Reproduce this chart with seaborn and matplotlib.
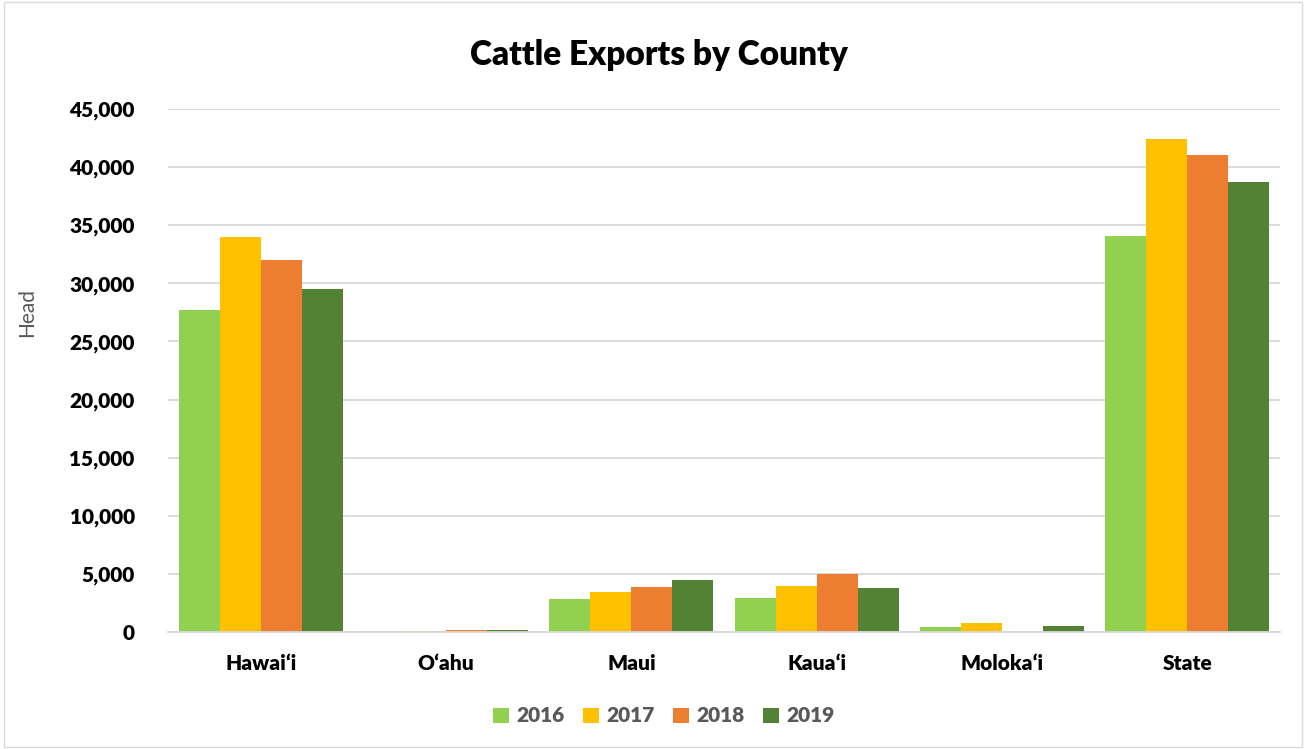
import pandas as pd
import matplotlib.pyplot as plt
import seaborn as sns
from matplotlib.ticker import FuncFormatter
from matplotlib.patches import Rectangle

# Chart data
counties = ['Hawai\u02bbi', 'O\u02bbahu', 'Maui', 'Kaua\u02bbi', 'Moloka\u02bbi', 'State']
years = ['2016', '2017', '2018', '2019']
head_2016 = [27700, 50, 2850, 2900, 400, 34100]
head_2017 = [34000, 50, 3400, 4000, 800, 42450]
head_2018 = [32000, 200, 3900, 5000, 0, 41000]
head_2019 = [29550, 180, 4450, 3750, 550, 38700]
colors = ['#92D050', '#FFC000', '#ED7D31', '#548235']

rows = []
for year, vals in zip(years, [head_2016, head_2017, head_2018, head_2019]):
    for county, v in zip(counties, vals):
        rows.append({'county': county, 'year': year, 'head': v})
df = pd.DataFrame(rows)

sns.set_style('white')
plt.rcParams['font.family'] = ['Lato', 'DejaVu Sans']
plt.rcParams['text.color'] = 'black'

fig = plt.figure(figsize=(13.06, 7.49), dpi=100)
ax = fig.add_axes([168 / 1306, 1 - 632 / 749, (1280 - 168) / 1306, (632 - 109) / 749])

sns.barplot(data=df, x='county', y='head', hue='year', palette=colors,
            width=0.886, saturation=1, linewidth=0, ax=ax, legend=True)

ax.set_ylim(0, 45000)
ax.set_yticks(range(0, 45001, 5000))
ax.yaxis.set_major_formatter(FuncFormatter(lambda v, p: f'{int(v):,}'))
ax.grid(axis='y', color='#d9d9d9', linewidth=1.3)
ax.set_axisbelow(True)
for s in ['top', 'right', 'left']:
    ax.spines[s].set_visible(False)
ax.spines['bottom'].set_color('#d9d9d9')
ax.spines['bottom'].set_linewidth(1.3)
ax.tick_params(axis='both', length=0, labelsize=15, labelcolor='black')
ax.tick_params(axis='y', pad=24)
ax.tick_params(axis='x', pad=16)
for lab in ax.get_xticklabels() + ax.get_yticklabels():
    lab.set_fontweight('heavy')
ax.set_xlabel('')
ax.set_ylabel('Head', fontsize=15, color='#595959')
ax.yaxis.set_label_coords(-0.118, 0.61)

fig.text(659 / 1306, 1 - 55 / 749, 'Cattle Exports by County', fontsize=24,
         fontweight='heavy', color='black', ha='center', va='center')

ax.legend(loc='center', bbox_to_anchor=(664 / 1306, 1 - 716 / 749), bbox_transform=fig.transFigure,
          ncol=4, frameon=False, handlelength=0.75, handleheight=0.75, handletextpad=0.35,
          columnspacing=0.9, prop={'weight': 'heavy', 'size': 15})
for t in ax.get_legend().get_texts():
    t.set_color('#595959')

fig.patches.append(Rectangle((0.003, 0.003), 0.994, 0.994, transform=fig.transFigure,
                             fill=False, edgecolor='#d9d9d9', linewidth=1))

fig.savefig('out.png', dpi=100)
